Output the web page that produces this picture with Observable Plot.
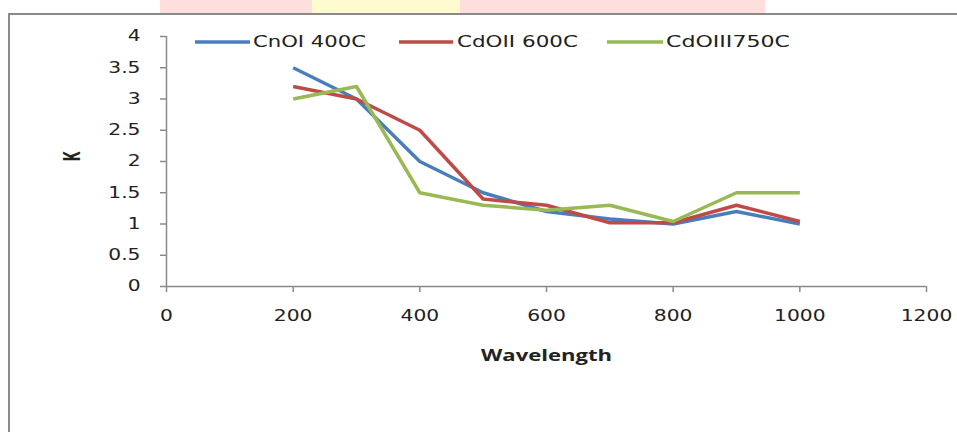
<!DOCTYPE html>
<html>
<head>
<meta charset="utf-8">
<script src="https://cdn.jsdelivr.net/npm/d3@7"></script>
<script src="https://cdn.jsdelivr.net/npm/@observablehq/plot@0.6"></script>
<style>
  html, body { margin: 0; padding: 0; background: #fff; }
  #wrap { position: relative; width: 957px; height: 432px; overflow: hidden; }
  .wm { position: absolute; top: 0; height: 13px; }
  #frame { position: absolute; left: 8px; top: 13px; width: 960px; height: 430px;
           border-left: 2px solid #8a8a8a; border-top: 2px solid #8a8a8a; box-sizing: border-box; }
  #chart { position: absolute; left: 0; top: 0; }
</style>
</head>
<body>
<div id="wrap">
  <div class="wm" style="left:160px;width:605px;background:#ffdede;"></div>
  <div class="wm" style="left:312px;width:148px;background:#fffbd0;"></div>
  <div id="frame"></div>
  <div id="chart"></div>
</div>
<script>
const wavelengths = [200, 300, 400, 500, 600, 700, 800, 900, 1000];
const seriesNames = ["CnOI 400C", "CdOII 600C", "CdOIII750C"];
const seriesColors = ["#4a7ebb", "#be4b48", "#98b954"];
const cnoi400 = [3.5, 3.0, 2.0, 1.5, 1.2, 1.08, 1.0, 1.2, 1.0];
const cdoii600 = [3.2, 3.0, 2.5, 1.4, 1.3, 1.02, 1.02, 1.3, 1.04];
const cdoiii750 = [3.0, 3.2, 1.5, 1.3, 1.22, 1.3, 1.04, 1.5, 1.5];
const xTicks = [0, 200, 400, 600, 800, 1000, 1200];
const yTicks = [0, 0.5, 1, 1.5, 2, 2.5, 3, 3.5, 4];
const xLabel = "Wavelength";
const yLabel = "K";

const allValues = [cnoi400, cdoii600, cdoiii750];
const data = [];
allValues.forEach((vals, i) => {
  vals.forEach((v, j) => data.push({ series: seriesNames[i], x: wavelengths[j], y: v }));
});

const font = "DejaVu Sans, Verdana, sans-serif";
const axisGray = "#8a8a8a";

const chart = Plot.plot({
  width: 957,
  height: 432,
  marginLeft: 166,
  marginRight: 31,
  marginTop: 36,
  marginBottom: 146,
  style: { fontFamily: font, fontSize: "15px", background: "transparent", overflow: "visible" },
  x: { domain: [0, 1200] },
  y: { domain: [0, 4] },
  color: { domain: seriesNames, range: seriesColors },
  marks: [
    Plot.ruleY([0], { stroke: axisGray, strokeWidth: 1.5 }),
    Plot.ruleX([0], { stroke: axisGray, strokeWidth: 1.5 }),
    Plot.axisX(xTicks, { tickSize: 6, tickPadding: 18, stroke: axisGray, strokeWidth: 1.5, fill: "#222", fontSize: 15, label: null, tickFormat: d => String(d) }),
    Plot.axisY(yTicks, { tickSize: 6, tickPadding: 20, stroke: axisGray, strokeWidth: 1.5, fill: "#222", fontSize: 15, label: null, tickFormat: d => String(d) }),
    Plot.line(data, { x: "x", y: "y", z: "series", stroke: "series", strokeWidth: 3.5, strokeLinejoin: "round", strokeLinecap: "butt" }),
    Plot.text([xLabel], { frameAnchor: "bottom", dy: 74, fontWeight: "bold", fontSize: 16, fill: "#222", fontFamily: "Open Sans, Liberation Sans, sans-serif" }),
    Plot.text([yLabel], { frameAnchor: "left", dx: -94, rotate: -90, fontWeight: "bold", fontSize: 24, fill: "#222", fontFamily: "Open Sans, Liberation Sans, sans-serif" })
  ]
});
document.getElementById("chart").appendChild(chart);

// Legend inside the plot area
const svg = d3.select(chart);
const legendPos = [
  { x1: 195, x2: 250, tx: 253, w: 113 },
  { x1: 399, x2: 453, tx: 457, w: 121 },
  { x1: 607, x2: 663, tx: 666, w: 124 }
];
const lg = svg.append("g").attr("class", "legend").attr("text-anchor", "start");
seriesNames.forEach((name, i) => {
  const p = legendPos[i];
  lg.append("line").attr("x1", p.x1).attr("x2", p.x2).attr("y1", 42).attr("y2", 42)
    .attr("stroke", seriesColors[i]).attr("stroke-width", 3.5);
  lg.append("text").attr("x", p.tx).attr("y", 42).attr("dy", "0.35em")
    .attr("text-anchor", "start")
    .attr("font-family", font).attr("font-size", 15).attr("fill", "#222")
    .attr("data-w", p.w).text(name);
});

// Horizontal stretch of text to match the reference's widened glyphs
svg.selectAll("text").each(function () {
  const el = this;
  const len = el.getComputedTextLength();
  if (!len) return;
  let target;
  if (el.hasAttribute("data-w")) target = +el.getAttribute("data-w");
  else if (el.textContent === xLabel) target = 131;
  else if (el.textContent === yLabel) target = 10;
  else target = len * 1.35;
  el.setAttribute("textLength", target);
  el.setAttribute("lengthAdjust", "spacingAndGlyphs");
});
</script>
</body>
</html>
